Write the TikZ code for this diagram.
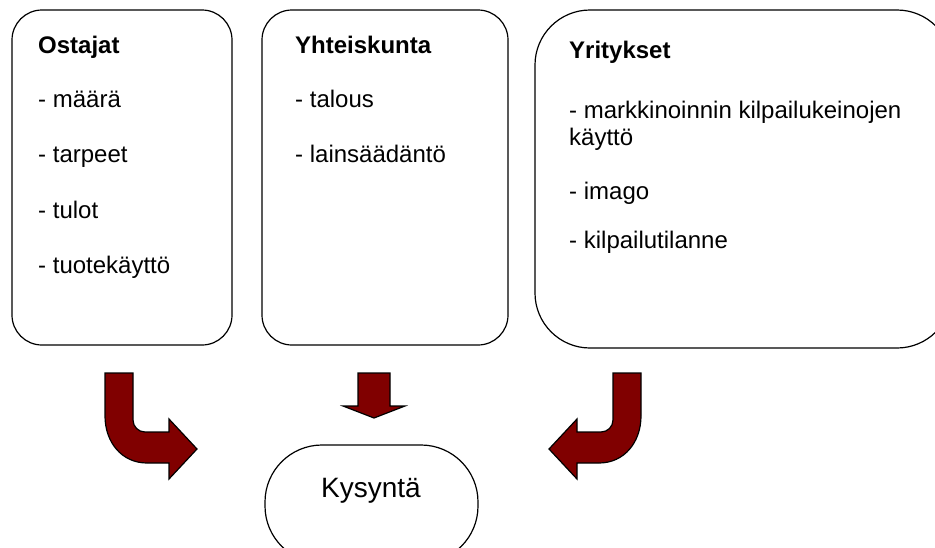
\documentclass[tikz,border=0pt]{standalone}
\usepackage{fontspec}
\setmainfont{Liberation Sans}
\definecolor{arrowred}{RGB}{128,0,0}

% bent block arrow, drawn left of the axis x=0 (mirrored for the right one)
\newcommand\bentshape{%
  (-268,373) -- (-240,373) -- (-240,420)
  .. controls (-240,426.6) and (-234.6,432) .. (-228,432)
  -- (-204,432) -- (-204,419) -- (-176,449) -- (-204,479) -- (-204,463)
  -- (-226,463) .. controls (-251.4,463) and (-268,442) .. (-268,416)
  -- cycle}

\begin{document}
\begin{tikzpicture}[x=1pt,y=-1pt,
  panel/.style={draw, line width=1.2pt, rounded corners=#1, inner sep=0pt},
  line/.style={anchor=base west, inner sep=0pt, font=\fontsize{24}{28}\selectfont},
  head/.style={line, font=\fontsize{24}{28}\selectfont\bfseries},
  blockarrow/.style={fill=arrowred, draw=black, line width=1.2pt, line join=miter}]
\useasboundingbox (0,0) rectangle (935,547);
\clip (0,0) rectangle (935,547);

% three factor panels
\node[panel=30pt, minimum width=220pt, minimum height=335pt] (buyers) at (122,177.5) {};
\node[panel=30pt, minimum width=246pt, minimum height=335pt] (society) at (385,177.5) {};
\node[panel=55pt, minimum width=417pt, minimum height=338pt] (firms) at (743.5,179) {};

% demand terminal
\node[panel=57pt, minimum width=213pt, minimum height=118pt] (demand) at (371.5,504) {};
\node[anchor=base, inner sep=0pt, font=\fontsize{28}{32}\selectfont] (demandlabel) at (371,497) {Kysyntä};

% buyers
\node[head] (b0) at (38,53) {Ostajat};
\node[line] (b1) at (38,107) {- määrä};
\node[line] (b2) at (38,162) {- tarpeet};
\node[line] (b3) at (38,218) {- tulot};
\node[line] (b4) at (38,273) {- tuotekäyttö};

% society
\node[head] (s0) at (295,53) {Yhteiskunta};
\node[line] (s1) at (295,107) {- talous};
\node[line] (s2) at (295,162) {- lainsäädäntö};

% firms
\node[head] (f0) at (569,58) {Yritykset};
\node[line] (f1) at (569,118) {- markkinoinnin kilpailukeinojen};
\node[line] (f2) at (569,145) {käyttö};
\node[line] (f3) at (569,199) {- imago};
\node[line] (f4) at (569,248) {- kilpailutilanne};

% block arrows towards demand
\begin{scope}[shift={(373,0)}]
  \path[blockarrow] \bentshape;
\end{scope}
\begin{scope}[shift={(373,0)}, xscale=-1]
  \path[blockarrow] \bentshape;
\end{scope}
\path[blockarrow] (358,373) -- (390,373) -- (390,406) -- (405,406)
  -- (374,418) -- (343,406) -- (358,406) -- cycle;
\end{tikzpicture}
\end{document}
